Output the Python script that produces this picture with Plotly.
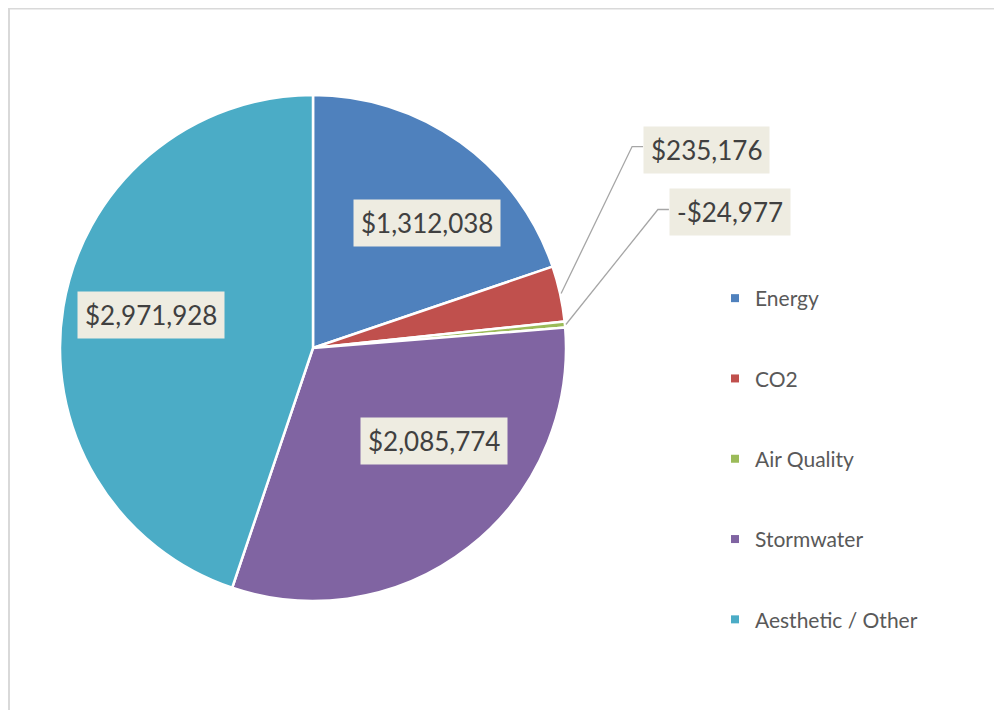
import math
import plotly.graph_objects as go

# ---- data ----
categories = ["Energy", "CO2", "Air Quality", "Stormwater", "Aesthetic / Other"]
values = [1312038, 235176, -24977, 2085774, 2971928]
colors = ["#4F81BD", "#C0504D", "#9BBB59", "#8064A2", "#4BACC6"]

# ---- layout / style ----
OFF = 8                      # page body margin in the browser
W, H = 1002 - OFF, 710 - OFF  # figure size
CX, CY, R = 313 - OFF, 348 - OFF, 253   # pie centre (figure px) and radius
FONT = "Lato"
LABEL_BG = "#EEECE1"
LABEL_COLOR = "#404040"
LEGEND_COLOR = "#595959"
LABEL_SIZE = 26

inside_nudge = {0: (17, 11), 3: (18, -39), 4: (3, -6)}
outside_offset = {1: (82, -147), 2: (103, -115)}


def fmt(v):
    return ("-$" if v < 0 else "$") + f"{abs(v):,}"


def px2paper(x, y):
    return x / W, 1 - y / H


sizes = [abs(v) for v in values]
total = sum(sizes)

fig = go.Figure()
fig.add_trace(go.Pie(
    labels=categories,
    values=sizes,
    sort=False,
    direction="clockwise",
    rotation=0,
    marker=dict(colors=colors, line=dict(color="white", width=2.5)),
    textinfo="none",
    hoverinfo="label+value",
    showlegend=False,
    domain=dict(x=[(CX - R) / W, (CX + R) / W], y=[1 - (CY + R) / H, 1 - (CY - R) / H]),
))

annotations = []
shapes = []
cum = 0
for i, (cat, v, s) in enumerate(zip(categories, values, sizes)):
    a0 = cum / total * 360
    cum += s
    a1 = cum / total * 360
    mid = math.radians((a0 + a1) / 2)
    sx, sy = math.sin(mid), -math.cos(mid)
    if i in inside_nudge:
        dx, dy = inside_nudge[i]
        lx, ly = CX + 0.66 * R * sx + dx, CY + 0.66 * R * sy + dy
        xp, yp = px2paper(lx, ly)
        annotations.append(dict(
            x=xp, y=yp, xref="paper", yref="paper", text=fmt(v), showarrow=False,
            xanchor="center", yanchor="middle", bgcolor=LABEL_BG, borderpad=7,
            font=dict(family=FONT, size=LABEL_SIZE, color=LABEL_COLOR),
        ))
    else:
        ex, ey = CX + (R + 1) * sx, CY + (R + 1) * sy
        ox, oy = outside_offset[i]
        elx, ely = ex + ox - 11, ey + oy
        bx = elx + 11
        p = [px2paper(ex, ey), px2paper(elx, ely), px2paper(bx, ely)]
        shapes.append(dict(
            type="path", xref="paper", yref="paper",
            path=f"M {p[0][0]} {p[0][1]} L {p[1][0]} {p[1][1]} L {p[2][0]} {p[2][1]}",
            line=dict(color="#A6A6A6", width=1.3),
        ))
        xp, yp = px2paper(bx, ely + 3)
        annotations.append(dict(
            x=xp, y=yp, xref="paper", yref="paper", text=fmt(v), showarrow=False,
            xanchor="left", yanchor="middle", bgcolor=LABEL_BG, borderpad=7,
            font=dict(family=FONT, size=LABEL_SIZE, color=LABEL_COLOR),
        ))

for cat, c in zip(categories, colors):
    fig.add_trace(go.Scatter(
        x=[None], y=[None], mode="markers", name=cat, legendgroup=cat,
        marker=dict(symbol="square", size=8, color=c),
        showlegend=True, hoverinfo="skip",
    ))

# chart border (top & left visible)
x0, y1 = px2paper(1, 0.5)
shapes.append(dict(type="rect", xref="paper", yref="paper", x0=x0, y0=-0.05, x1=1.05, y1=y1,
                   line=dict(color="#D9D9D9", width=2), layer="below"))

fig.update_layout(
    width=W, height=H,
    margin=dict(l=0, r=0, t=0, b=0),
    paper_bgcolor="white", plot_bgcolor="white",
    xaxis=dict(visible=False), yaxis=dict(visible=False),
    showlegend=True,
    legend=dict(
        x=707 / W, y=1 - 270 / H, xanchor="left", yanchor="top",
        font=dict(family=FONT, size=21, color=LEGEND_COLOR),
        tracegroupgap=50, itemwidth=30,
        bgcolor="rgba(0,0,0,0)",
    ),
    annotations=annotations,
    shapes=shapes,
)

fig.write_html("out.html")
